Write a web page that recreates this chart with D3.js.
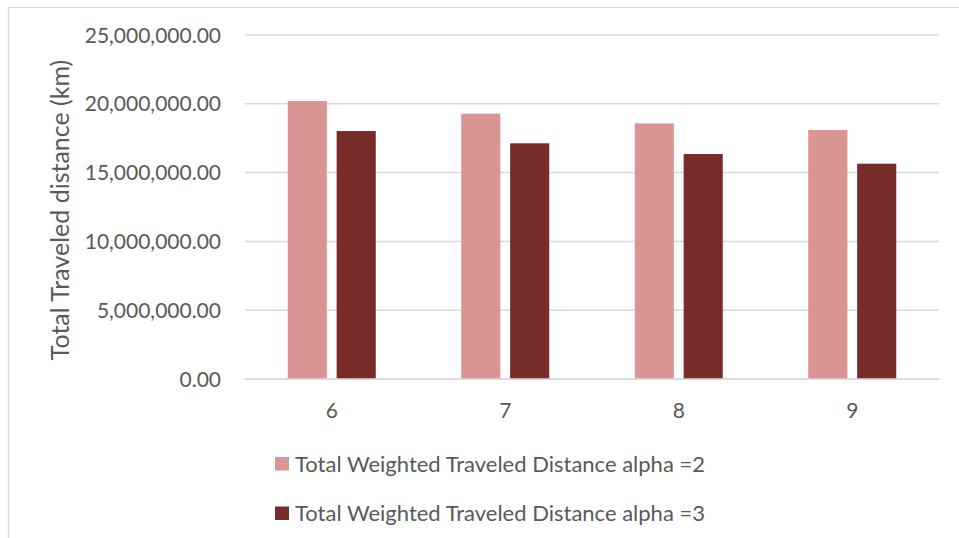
<!DOCTYPE html>
<html><head><meta charset="utf-8">
<script src="https://cdn.jsdelivr.net/npm/d3@7"></script>
<style>
html,body{margin:0;padding:0;background:#fff;}
svg{display:block;}
text{font-family:Lato, "Open Sans", sans-serif;fill:#595959;}
</style></head>
<body><svg id="c" width="959" height="538"></svg>
<script>
const categories = ["6", "7", "8", "9"];
const seriesNames = ["Total Weighted Traveled Distance alpha =2", "Total Weighted Traveled Distance alpha =3"];
const alpha2 = [20200000, 19280000, 18580000, 18100000];
const alpha3 = [18020000, 17130000, 16350000, 15650000];
const yTicks = [0, 5000000, 10000000, 15000000, 20000000, 25000000];
const colors = ["#D99594", "#772C2A"];

(function(){
const svg = d3.select("#c");
// frame
svg.append("line").attr("x1",8.5).attr("x2",959).attr("y1",7.5).attr("y2",7.5).attr("stroke","#D9D9D9").attr("stroke-width",1);
svg.append("line").attr("x1",8.5).attr("x2",8.5).attr("y1",7.5).attr("y2",538).attr("stroke","#D9D9D9").attr("stroke-width",1.5);

const pL = 245, pR = 939, pT = 35, pB = 379;
const x = d3.scaleBand().domain(categories).range([pL, pR]);
const y = d3.scaleLinear().domain([0, 25000000]).range([pB, pT]);
const bw = x.bandwidth();
const x1 = d3.scaleBand().domain([0,1]).range([bw/2 - 44, bw/2 + 44]).paddingInner(0.2);

// gridlines
svg.append("g").selectAll("line").data(yTicks).join("line")
  .attr("x1", pL).attr("x2", pR)
  .attr("y1", d => y(d)).attr("y2", d => y(d))
  .attr("stroke", "#D9D9D9").attr("stroke-width", 1.5);

// y tick labels
const fmt = d3.format(",.2f");
svg.append("g").selectAll("text").data(yTicks).join("text")
  .attr("x", 221).attr("y", d => y(d)).attr("dy", "0.36em")
  .attr("text-anchor", "end").style("font-size", "21px")
  .text(d => fmt(d));

// bars
const series = [alpha2, alpha3];
series.forEach((vals, si) => {
  svg.append("g").selectAll("rect").data(vals).join("rect")
    .attr("x", (d,i) => x(categories[i]) + x1(si))
    .attr("width", x1.bandwidth())
    .attr("y", d => y(d))
    .attr("height", d => y(0) - y(d))
    .attr("fill", colors[si]);
});

// baseline over bars
svg.append("line").attr("x1", pL).attr("x2", pR).attr("y1", y(0)).attr("y2", y(0))
  .attr("stroke", "#D9D9D9").attr("stroke-width", 1.5);

// x labels
svg.append("g").selectAll("text").data(categories).join("text")
  .attr("x", d => x(d) + bw/2).attr("y", 418)
  .attr("text-anchor", "middle").style("font-size", "21px")
  .text(d => d);

// y title
svg.append("text").attr("transform", "translate(69,210) rotate(-90)")
  .attr("text-anchor", "middle").style("font-size", "25px")
  .text("Total Traveled distance (km)");

// legend
const lg = svg.append("g");
seriesNames.forEach((n, i) => {
  const yy = 457 + i * 49.5;
  lg.append("rect").attr("x", 275).attr("y", yy).attr("width", 14).attr("height", 13.5).attr("fill", colors[i]);
  lg.append("text").attr("x", 295).attr("y", yy + 14.5).style("font-size", "22px").text(n);
});
})();
</script></body></html>
